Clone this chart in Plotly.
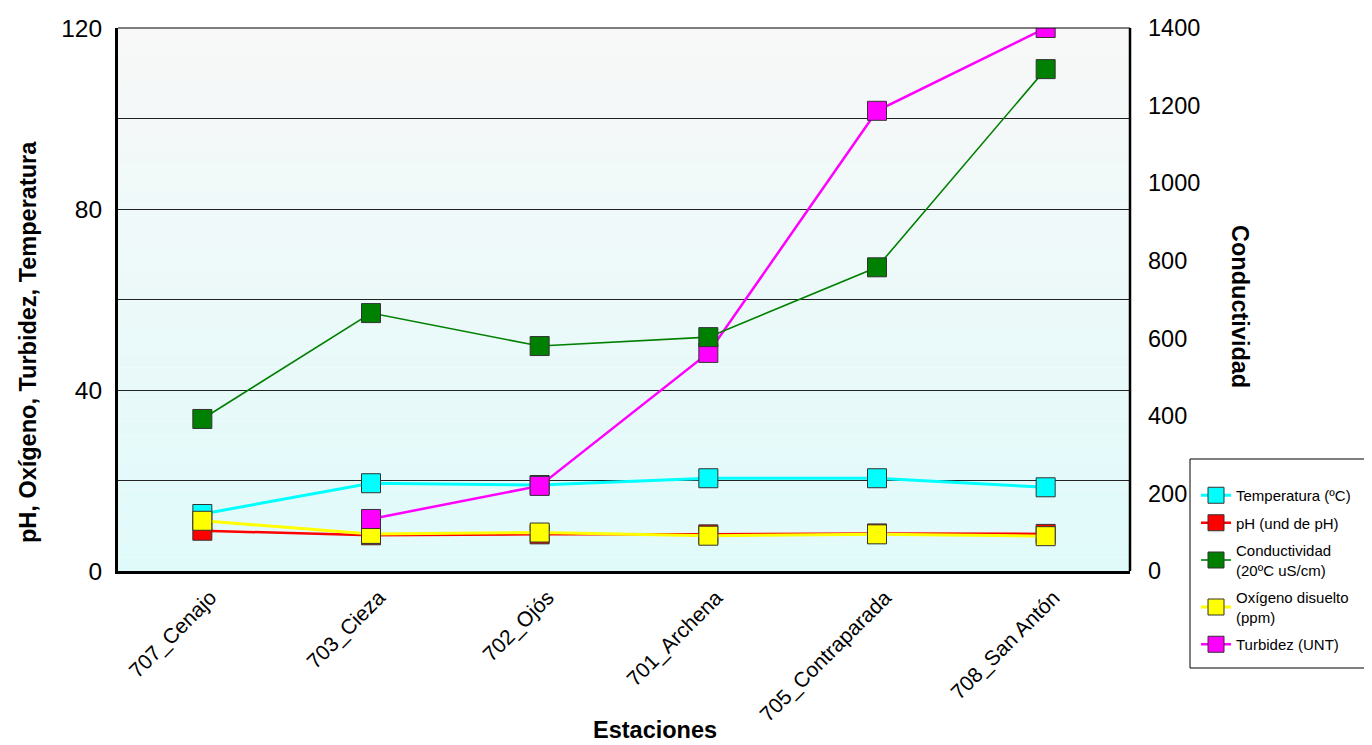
import plotly.graph_objects as go

estaciones = ["707_Cenajo", "703_Cieza", "702_Ojós", "701_Archena", "705_Contraparada", "708_San Antón"]
temperatura = [12.6, 19.4, 19.0, 20.5, 20.5, 18.5]
ph = [8.9, 7.9, 8.1, 8.1, 8.3, 8.2]
conductividad = [392, 665, 580, 603, 783, 1294]
oxigeno = [11.1, 8.2, 8.5, 7.8, 8.1, 7.7]
turbidez = [None, 11.5, 18.8, 48.2, 101.7, 120]

left_ticks = [0, 20, 40, 60, 80, 100, 120]
left_labels = ["0", "", "40", "", "80", "", "120"]
right_ticks = [0, 200, 400, 600, 800, 1000, 1200, 1400]

FONT = "Liberation Sans, Arial, sans-serif"

fig = go.Figure()

def add(name, y, color, lw, yaxis="y"):
    fig.add_trace(go.Scatter(
        x=estaciones, y=y, name=name, mode="lines+markers", yaxis=yaxis,
        legendgroup=name,
        line=dict(color=color, width=lw),
        marker=dict(symbol="square", size=19, color=color, line=dict(color="#333333", width=1)),
        connectgaps=False,
    ))

add("Temperatura (ºC)", temperatura, "#00FFFF", 3)
add("pH (und de pH)", ph, "#FF0000", 2.5)
add("Conductividad<br>(20ºC uS/cm)", conductividad, "#008000", 1.6, "y2")
add("Oxígeno disuelto<br>(ppm)", oxigeno, "#FFFF00", 3)
add("Turbidez (UNT)", turbidez, "#FF00FF", 2.5)

# plot area in page pixels (reference): x 118..1130, y 28..571 ; page has 8px body margin
PL, PR, PT, PB = 118, 1130, 28, 571
PW, PH = PR - PL, PB - PT
def px(x):
    return (x - PL) / PW
def py(y):
    return (PB - y) / PH

# vertical gradient background bands
n = 40
top = (248, 248, 248)
bot = (224, 250, 250)
shapes = []
for i in range(n):
    t = (i + 0.5) / n
    c = tuple(round(bot[k] + (top[k] - bot[k]) * t) for k in range(3))
    shapes.append(dict(type="rect", xref="paper", yref="paper", x0=0, x1=1,
                       y0=i / n, y1=(i + 1) / n, fillcolor="rgb(%d,%d,%d)" % c,
                       line=dict(width=0), layer="below"))
shapes.append(dict(type="line", xref="paper", yref="paper", x0=0, x1=1, y0=1, y1=1,
                   line=dict(color="black", width=1)))
shapes.append(dict(type="line", xref="paper", yref="paper", x0=1, x1=1, y0=0, y1=1,
                   line=dict(color="black", width=2.5)))
# legend frame
shapes.append(dict(type="rect", xref="paper", yref="paper", x0=px(1190), x1=px(1366),
                   y0=py(668), y1=py(459), line=dict(color="black", width=1),
                   fillcolor="white", layer="below"))

W, H = 1364, 737
fig.update_layout(
    width=W, height=H,
    margin=dict(l=PL - 8, r=W - (PL - 8) - PW, t=PT - 8, b=H - (PT - 8) - PH, autoexpand=False),
    paper_bgcolor="white", plot_bgcolor="rgba(0,0,0,0)",
    font=dict(family=FONT, color="black"),
    shapes=shapes,
    xaxis=dict(
        type="category", range=[-0.5, 5.5], tickangle=-45, automargin=False,
        tickfont=dict(size=21), showgrid=False, showline=True, linecolor="black", linewidth=3,
        ticks="", ticklabelstandoff=3, ticklabelshift=8,
    ),
    yaxis=dict(
        range=[0, 120], tickvals=left_ticks, ticktext=left_labels, automargin=False,
        tickfont=dict(size=24.5), showgrid=True, gridcolor="#222222", gridwidth=1,
        showline=True, linecolor="black", linewidth=3, ticks="", ticklabelstandoff=8,
        zeroline=False,
    ),
    yaxis2=dict(
        range=[0, 1400], tickvals=right_ticks, overlaying="y", side="right", automargin=False,
        tickfont=dict(size=23.5), showgrid=False, zeroline=False, showline=False,
        ticks="", ticklabelstandoff=17,
    ),
    legend=dict(
        x=px(1196), y=py(479), xanchor="left", yanchor="top",
        borderwidth=0, bgcolor="rgba(0,0,0,0)",
        font=dict(size=15), tracegroupgap=5, itemwidth=30,
    ),
    annotations=[
        dict(text="<b>Conductividad</b>", xref="paper", yref="paper",
             x=px(1240), y=py(306), textangle=90, showarrow=False,
             font=dict(size=23.5), xanchor="center", yanchor="middle"),
        dict(text="<b>pH, Oxígeno, Turbidez, Temperatura</b>", xref="paper", yref="paper",
             x=px(28), y=py(342), textangle=-90, showarrow=False,
             font=dict(size=23.5), xanchor="center", yanchor="middle"),
        dict(text="<b>Estaciones</b>", xref="paper", yref="paper",
             x=px(655), y=py(730), showarrow=False,
             font=dict(size=23.5), xanchor="center", yanchor="middle"),
    ],
)

fig.write_html("out.html")
